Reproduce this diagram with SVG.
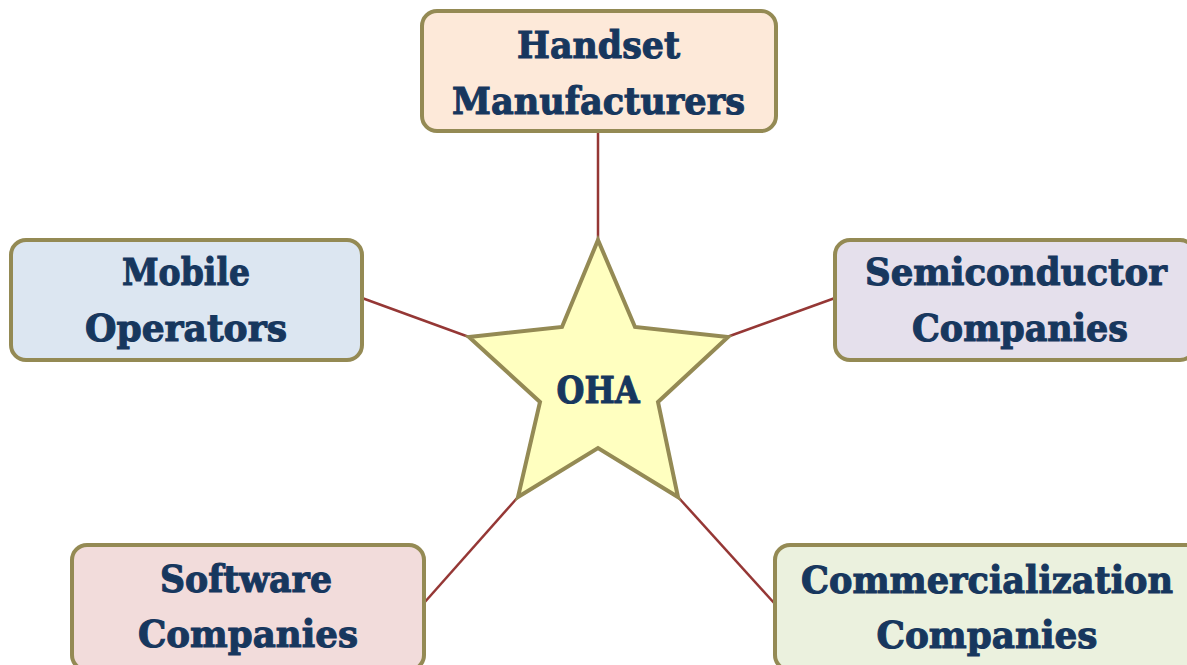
<svg xmlns="http://www.w3.org/2000/svg" width="1187" height="665" viewBox="0 0 1187 665">
<style>
.box{stroke:#948A54;stroke-width:4}
.t{font-family:"DejaVu Serif","Liberation Serif",serif;font-weight:bold;font-size:38px;fill:#17375E;stroke:#17375E;stroke-width:1.1;text-anchor:middle}
.c{stroke:#953735;stroke-width:2.5;fill:none}
</style>
<rect width="1187" height="665" fill="#FFFFFF"/>
<g id="connectors">
<line class="c" x1="598" y1="131" x2="598" y2="241"/>
<line class="c" x1="362" y1="298" x2="469" y2="337"/>
<line class="c" x1="835" y1="298" x2="727" y2="337"/>
<line class="c" x1="424" y1="603" x2="518" y2="497"/>
<line class="c" x1="775" y1="604" x2="678" y2="497"/>
</g>
<g id="oha">
<polygon class="box" fill="#FFFFC0" points="598,240 635,327 728,337 658,402 678,497 598,448 518,497 540,402 469,337 562,327"/>
<text class="t" x="598" y="403" textLength="83" lengthAdjust="spacingAndGlyphs">OHA</text>
</g>
<g id="handset">
<rect class="box" x="422" y="11" width="354" height="120" rx="15" fill="#FDE9D9"/>
<text class="t" x="598.5" y="58" textLength="163" lengthAdjust="spacingAndGlyphs">Handset</text>
<text class="t" x="598.5" y="114" textLength="293" lengthAdjust="spacingAndGlyphs">Manufacturers</text>
</g>
<g id="mobile">
<rect class="box" x="11" y="240" width="351" height="120" rx="15" fill="#DCE6F1"/>
<text class="t" x="186" y="285" textLength="128" lengthAdjust="spacingAndGlyphs">Mobile</text>
<text class="t" x="186" y="341" textLength="202" lengthAdjust="spacingAndGlyphs">Operators</text>
</g>
<g id="semiconductor">
<rect class="box" x="835" y="240" width="360" height="120" rx="15" fill="#E5E0EC"/>
<text class="t" x="1016" y="285" textLength="302" lengthAdjust="spacingAndGlyphs">Semiconductor</text>
<text class="t" x="1020" y="341" textLength="216" lengthAdjust="spacingAndGlyphs">Companies</text>
</g>
<g id="software">
<rect class="box" x="72" y="545" width="352" height="125" rx="15" fill="#F2DCDB"/>
<text class="t" x="246" y="592" textLength="172" lengthAdjust="spacingAndGlyphs">Software</text>
<text class="t" x="248" y="647" textLength="220" lengthAdjust="spacingAndGlyphs">Companies</text>
</g>
<g id="commercialization">
<rect class="box" x="775" y="545" width="430" height="125" rx="15" fill="#EBF1DE"/>
<text class="t" x="987" y="593" textLength="372" lengthAdjust="spacingAndGlyphs">Commercialization</text>
<text class="t" x="987" y="648" textLength="221" lengthAdjust="spacingAndGlyphs">Companies</text>
</g>
</svg>
